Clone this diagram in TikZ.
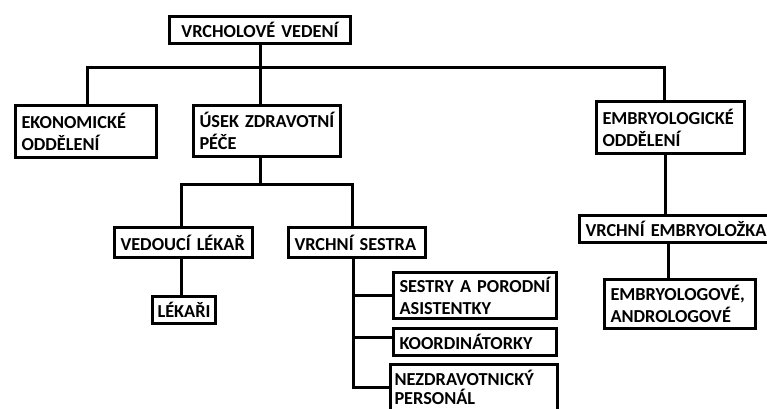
\documentclass[tikz,border=0pt]{standalone}
\usepackage{fontspec}
\setmainfont{Carlito}
\begin{document}
\begin{tikzpicture}[x=1pt,y=-1pt,
  box/.style={draw=black, line width=3pt, fill=white, anchor=north west,
    inner xsep=6pt, inner ysep=0pt, align=left,
    font=\bfseries\fontsize{18.3}{22}\selectfont},
  conn/.style={draw=black, line width=3pt}]
\useasboundingbox (0,0) rectangle (767,408);
\clip (0,0) rectangle (767,408);
\fill[white] (0,0) rectangle (767,408);
% nodes
\node[box, minimum width=181pt, minimum height=27pt, text width=169pt, align=center] (top) at (168,15) {VRCHOLOVÉ VEDENÍ};
\node[box, minimum width=141pt, minimum height=52pt, text width=129pt] (eko) at (14,104) {EKONOMICKÉ\\ODDĚLENÍ};
\node[box, minimum width=147pt, minimum height=51pt, text width=135pt] (usek) at (192,104) {ÚSEK ZDRAVOTNÍ\\PÉČE};
\node[box, minimum width=148pt, minimum height=52pt, text width=136pt] (embod) at (595,100) {EMBRYOLOGICKÉ\\ODDĚLENÍ};
\node[box, minimum width=138pt, minimum height=30pt, text width=126pt] (vedlek) at (113,226) {VEDOUCÍ LÉKAŘ};
\node[box, minimum width=137pt, minimum height=30pt, text width=125pt] (vsestra) at (287,226) {VRCHNÍ SESTRA};
\node[box, minimum width=63pt, minimum height=27pt, text width=57pt, inner xsep=3pt, align=center] (lekari) at (151,295) {LÉKAŘI};
\node[box, minimum width=163pt, minimum height=46pt, text width=151pt] (sestry) at (392,271) {SESTRY A PORODNÍ\\ASISTENTKY};
\node[box, minimum width=163pt, minimum height=27pt, text width=151pt] (koord) at (392,327) {KOORDINÁTORKY};
\node[box, draw=none, minimum width=164pt, minimum height=44pt, text width=158pt, inner xsep=3pt,
  font=\bfseries\fontsize{18.3}{19}\selectfont] (nezdr) at (390,364) {NEZDRAVOTNICKÝ\\PERSONÁL};
\draw[conn] (nezdr.north west) rectangle ([yshift=-20pt]nezdr.south east);
\node[box, minimum width=197pt, minimum height=27pt, text width=185pt] (vremb) at (578,214) {VRCHNÍ EMBRYOLOŽKA};
\node[box, minimum width=151pt, minimum height=49pt, text width=139pt] (embandr) at (603,278) {EMBRYOLOGOVÉ,\\ANDROLOGOVÉ};
% connectors level 1
\coordinate (bus1) at (top.south |- 0,67);
\draw[conn] (top.south) -- (bus1);
\draw[conn] ([xshift=1.5pt]eko.north) |- ([xshift=-6pt]embod.north |- bus1) -- ([xshift=-6pt]embod.north);
\draw[conn] (bus1) -- ([xshift=-7pt]usek.north);
% level 2
\coordinate (bus2) at ([xshift=-7pt]usek.south |- 0,184);
\draw[conn] ([xshift=-7pt]usek.south) -- (bus2);
\draw[conn] ([xshift=-2pt]vedlek.north) |- ([xshift=-5pt]vsestra.north |- bus2) -- ([xshift=-5pt]vsestra.north);
\draw[conn] ([xshift=-2pt]vedlek.south) -- ([xshift=-2pt]vedlek.south |- lekari.north);
% vrchni sestra spine
\coordinate (spine) at ([xshift=-3.5pt]vsestra.south |- 0,387);
\draw[conn] ([xshift=-3.5pt]vsestra.south) -- (spine) -- (spine -| nezdr.west);
\draw[conn] (spine |- sestry.west) -- (sestry.west);
\draw[conn] (spine |- 0,337) -- (koord.west |- 0,337);
% embryology
\draw[conn] ([xshift=-5pt]embod.south) -- ([xshift=-5pt]embod.south |- vremb.north);
\draw[conn] ([xshift=-12pt]embandr.north) -- ([xshift=-12pt]embandr.north |- vremb.south);
\end{tikzpicture}
\end{document}
